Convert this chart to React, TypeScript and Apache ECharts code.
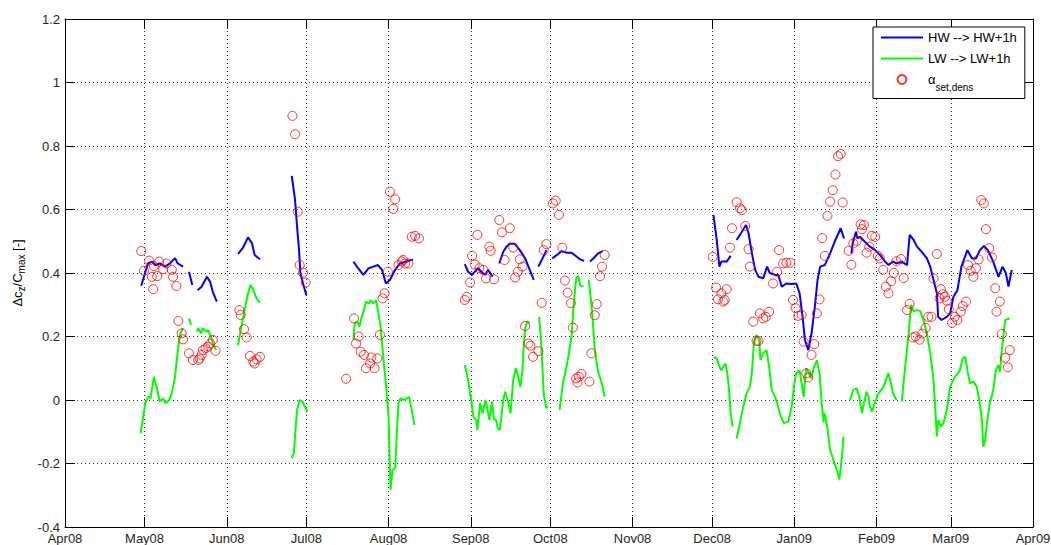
import React, { useEffect, useRef } from 'react';
import * as echarts from 'echarts';

const HW_NAME = 'HW --> HW+1h';
const LW_NAME = 'LW --> LW+1h';
const ALPHA_NAME = 'αset,dens';
const MONTHS = ['Jan', 'Feb', 'Mar', 'Apr', 'May', 'Jun', 'Jul', 'Aug', 'Sep', 'Oct', 'Nov', 'Dec'];
const X_START = '2008-04-01';
const X_END = '2009-04-01';

type Pt = [string, number];

// HW --> HW+1h (blue), separate measured stretches
const hwSegments: Pt[][] = [
  [['2008-04-29 18:00', 0.36], ['2008-05-02 06:00', 0.43], ['2008-05-03 18:00', 0.436], ['2008-05-05 00:00', 0.425], ['2008-05-06 18:00', 0.43], ['2008-05-08 18:00', 0.42], ['2008-05-10 12:00', 0.43], ['2008-05-12 12:00', 0.447], ['2008-05-13 12:00', 0.43], ['2008-05-15 12:00', 0.42]],
  [['2008-05-17 18:00', 0.404], ['2008-05-19 00:00', 0.362]],
  [['2008-05-21 00:00', 0.346], ['2008-05-22 12:00', 0.357], ['2008-05-24 12:00', 0.388], ['2008-05-25 18:00', 0.372], ['2008-05-26 18:00', 0.34], ['2008-05-28 06:00', 0.31]],
  [['2008-06-05 06:00', 0.46], ['2008-06-07 00:00', 0.478], ['2008-06-09 00:00', 0.512], ['2008-06-10 12:00', 0.494], ['2008-06-11 12:00', 0.457], ['2008-06-13 12:00', 0.443]],
  [['2008-06-25 12:00', 0.706], ['2008-06-26 18:00', 0.63], ['2008-06-27 12:00', 0.546], ['2008-06-28 06:00', 0.472], ['2008-06-28 18:00', 0.4], ['2008-06-29 18:00', 0.367], ['2008-07-01 00:00', 0.33]],
  [['2008-07-18 18:00', 0.436], ['2008-07-20 12:00', 0.415], ['2008-07-22 12:00', 0.394], ['2008-07-24 12:00', 0.415], ['2008-07-26 06:00', 0.42], ['2008-07-28 00:00', 0.425], ['2008-07-29 12:00', 0.41], ['2008-07-31 00:00', 0.367], ['2008-08-01 12:00', 0.378], ['2008-08-03 12:00', 0.41], ['2008-08-05 06:00', 0.43], ['2008-08-07 18:00', 0.436], ['2008-08-10 06:00', 0.443]],
  [['2008-08-29 18:00', 0.428], ['2008-08-31 00:00', 0.404], ['2008-09-01 12:00', 0.394], ['2008-09-02 12:00', 0.404], ['2008-09-03 18:00', 0.415], ['2008-09-05 00:00', 0.404], ['2008-09-06 12:00', 0.394], ['2008-09-07 12:00', 0.41], ['2008-09-09 06:00', 0.388]],
  [['2008-09-11 18:00', 0.43], ['2008-09-13 06:00', 0.467], ['2008-09-14 12:00', 0.483], ['2008-09-15 18:00', 0.493], ['2008-09-17 18:00', 0.491], ['2008-09-19 12:00', 0.472], ['2008-09-21 12:00', 0.446], ['2008-09-23 06:00', 0.41], ['2008-09-24 18:00', 0.378]],
  [['2008-09-26 12:00', 0.42], ['2008-09-27 18:00', 0.441], ['2008-09-29 00:00', 0.462], ['2008-09-29 12:00', 0.472]],
  [['2008-10-01 18:00', 0.446], ['2008-10-03 12:00', 0.457], ['2008-10-05 06:00', 0.469], ['2008-10-07 06:00', 0.464], ['2008-10-09 00:00', 0.464], ['2008-10-11 00:00', 0.451], ['2008-10-12 06:00', 0.443], ['2008-10-13 18:00', 0.438]],
  [['2008-10-16 00:00', 0.436], ['2008-10-17 12:00', 0.448], ['2008-10-19 00:00', 0.462], ['2008-10-20 18:00', 0.469]],
  [['2008-12-01 12:00', 0.583], ['2008-12-02 18:00', 0.504], ['2008-12-03 18:00', 0.42], ['2008-12-04 12:00', 0.436], ['2008-12-06 12:00', 0.436], ['2008-12-08 00:00', 0.454]],
  [['2008-12-10 06:00', 0.504], ['2008-12-11 12:00', 0.52], ['2008-12-13 18:00', 0.551], ['2008-12-14 18:00', 0.525], ['2008-12-16 00:00', 0.462], ['2008-12-17 06:00', 0.41], ['2008-12-18 12:00', 0.388], ['2008-12-20 06:00', 0.383], ['2008-12-21 18:00', 0.42], ['2008-12-22 18:00', 0.4], ['2008-12-24 18:00', 0.394], ['2008-12-26 00:00', 0.394], ['2008-12-27 06:00', 0.357], ['2008-12-29 00:00', 0.367], ['2008-12-31 00:00', 0.365], ['2009-01-01 18:00', 0.367], ['2009-01-03 00:00', 0.336], ['2009-01-04 06:00', 0.252], ['2009-01-05 00:00', 0.189], ['2009-01-06 06:00', 0.157], ['2009-01-07 12:00', 0.21], ['2009-01-08 18:00', 0.294], ['2009-01-09 18:00', 0.378], ['2009-01-10 18:00', 0.42], ['2009-01-12 12:00', 0.425], ['2009-01-14 12:00', 0.462], ['2009-01-16 12:00', 0.504], ['2009-01-18 12:00', 0.541], ['2009-01-19 18:00', 0.509]],
  [['2009-01-22 12:00', 0.462], ['2009-01-23 00:00', 0.493], ['2009-01-24 06:00', 0.53], ['2009-01-24 18:00', 0.509], ['2009-01-25 18:00', 0.514], ['2009-01-27 12:00', 0.499], ['2009-01-29 12:00', 0.483], ['2009-01-31 12:00', 0.472], ['2009-02-02 06:00', 0.457], ['2009-02-04 06:00', 0.436], ['2009-02-05 12:00', 0.425], ['2009-02-07 06:00', 0.436], ['2009-02-08 12:00', 0.43], ['2009-02-10 12:00', 0.436], ['2009-02-12 12:00', 0.425], ['2009-02-13 12:00', 0.52], ['2009-02-15 00:00', 0.504], ['2009-02-16 06:00', 0.483], ['2009-02-18 00:00', 0.467], ['2009-02-20 00:00', 0.446], ['2009-02-21 06:00', 0.42], ['2009-02-22 12:00', 0.378], ['2009-02-23 18:00', 0.336], ['2009-02-24 06:00', 0.262], ['2009-02-25 12:00', 0.252], ['2009-02-27 12:00', 0.262], ['2009-02-28 18:00', 0.273], ['2009-03-02 00:00', 0.325], ['2009-03-03 12:00', 0.346], ['2009-03-05 00:00', 0.42], ['2009-03-07 06:00', 0.472], ['2009-03-09 00:00', 0.446], ['2009-03-10 12:00', 0.446], ['2009-03-12 00:00', 0.472], ['2009-03-13 12:00', 0.485], ['2009-03-15 00:00', 0.472], ['2009-03-17 00:00', 0.436], ['2009-03-19 00:00', 0.388], ['2009-03-20 12:00', 0.42], ['2009-03-21 18:00', 0.4], ['2009-03-22 18:00', 0.357], ['2009-03-24 00:00', 0.41]],
];

// LW --> LW+1h (green)
const lwSegments: Pt[][] = [
  [['2008-04-29 12:00', -0.105], ['2008-04-30 12:00', -0.052], ['2008-05-01 06:00', -0.01], ['2008-05-02 12:00', 0.01], ['2008-05-03 06:00', 0.005], ['2008-05-04 12:00', 0.073], ['2008-05-05 12:00', 0.042], ['2008-05-06 18:00', -0.005], ['2008-05-08 00:00', 0.005], ['2008-05-09 00:00', -0.01], ['2008-05-10 06:00', 0.0], ['2008-05-11 06:00', 0.021], ['2008-05-12 12:00', 0.073], ['2008-05-13 00:00', 0.115], ['2008-05-13 18:00', 0.168], ['2008-05-14 12:00', 0.21], ['2008-05-15 12:00', 0.226]],
  [['2008-05-17 18:00', 0.257], ['2008-05-18 12:00', 0.236]],
  [['2008-05-20 18:00', 0.215], ['2008-05-21 06:00', 0.226], ['2008-05-22 06:00', 0.21], ['2008-05-23 00:00', 0.226], ['2008-05-24 06:00', 0.215], ['2008-05-25 00:00', 0.22], ['2008-05-26 00:00', 0.2], ['2008-05-27 00:00', 0.173], ['2008-05-28 00:00', 0.157]],
  [['2008-06-05 06:00', 0.173], ['2008-06-06 12:00', 0.231], ['2008-06-08 00:00', 0.294], ['2008-06-09 00:00', 0.336], ['2008-06-10 00:00', 0.362], ['2008-06-11 00:00', 0.346], ['2008-06-12 06:00', 0.32], ['2008-06-13 12:00', 0.307]],
  [['2008-06-25 12:00', -0.184], ['2008-06-26 06:00', -0.168], ['2008-06-27 00:00', -0.084], ['2008-06-27 12:00', -0.031], ['2008-06-28 12:00', 0.0], ['2008-06-29 12:00', -0.005], ['2008-06-30 12:00', -0.021], ['2008-07-01 12:00', -0.037]],
  [['2008-07-18 18:00', 0.189], ['2008-07-19 06:00', 0.241], ['2008-07-20 06:00', 0.247], ['2008-07-21 00:00', 0.231], ['2008-07-21 18:00', 0.257], ['2008-07-22 18:00', 0.283], ['2008-07-23 12:00', 0.31], ['2008-07-24 12:00', 0.304], ['2008-07-25 06:00', 0.315], ['2008-07-26 06:00', 0.304], ['2008-07-27 06:00', 0.315], ['2008-07-28 00:00', 0.283], ['2008-07-29 00:00', 0.231], ['2008-07-30 00:00', 0.136], ['2008-07-31 00:00', 0.052], ['2008-08-01 00:00', -0.052], ['2008-08-01 12:00', -0.21], ['2008-08-01 18:00', -0.283], ['2008-08-02 12:00', -0.22], ['2008-08-03 12:00', -0.215], ['2008-08-04 00:00', -0.126], ['2008-08-04 18:00', -0.01], ['2008-08-05 12:00', 0.005], ['2008-08-07 06:00', 0.0], ['2008-08-08 18:00', 0.01], ['2008-08-09 18:00', -0.031], ['2008-08-10 18:00', -0.079]],
  [['2008-08-29 18:00', 0.11], ['2008-08-31 00:00', 0.063], ['2008-09-01 12:00', -0.021], ['2008-09-02 00:00', -0.052], ['2008-09-03 00:00', -0.063], ['2008-09-03 12:00', -0.094], ['2008-09-04 12:00', -0.01], ['2008-09-05 12:00', -0.042], ['2008-09-06 12:00', 0.0], ['2008-09-07 06:00', -0.026], ['2008-09-08 00:00', -0.063], ['2008-09-09 00:00', -0.005], ['2008-09-09 18:00', -0.06], ['2008-09-10 12:00', -0.063], ['2008-09-11 06:00', -0.09], ['2008-09-12 00:00', -0.094], ['2008-09-13 06:00', 0.0], ['2008-09-14 00:00', 0.026], ['2008-09-15 06:00', -0.01], ['2008-09-16 00:00', -0.042], ['2008-09-17 00:00', 0.063], ['2008-09-18 00:00', 0.1], ['2008-09-18 18:00', 0.079], ['2008-09-19 18:00', 0.042], ['2008-09-20 12:00', 0.094], ['2008-09-21 00:00', 0.178], ['2008-09-21 12:00', 0.226], ['2008-09-22 06:00', 0.247], ['2008-09-23 06:00', 0.242]],
  [['2008-09-26 18:00', 0.262], ['2008-09-27 12:00', 0.189], ['2008-09-28 00:00', 0.105], ['2008-09-28 12:00', 0.021], ['2008-09-29 12:00', -0.026], ['2008-09-30 00:00', -0.019]],
  [['2008-10-04 12:00', -0.031], ['2008-10-05 18:00', 0.052], ['2008-10-06 12:00', 0.08], ['2008-10-07 18:00', 0.135], ['2008-10-09 00:00', 0.2], ['2008-10-09 18:00', 0.294], ['2008-10-10 18:00', 0.385], ['2008-10-11 12:00', 0.39], ['2008-10-12 06:00', 0.362], ['2008-10-13 12:00', 0.357]],
  [['2008-10-15 12:00', 0.378], ['2008-10-16 12:00', 0.3], ['2008-10-17 06:00', 0.22], ['2008-10-17 18:00', 0.157], ['2008-10-19 00:00', 0.09], ['2008-10-19 18:00', 0.07], ['2008-10-20 12:00', 0.05], ['2008-10-21 12:00', 0.01]],
  [['2008-12-01 12:00', 0.136], ['2008-12-02 18:00', 0.131], ['2008-12-03 18:00', 0.105], ['2008-12-04 12:00', 0.094], ['2008-12-06 00:00', 0.115], ['2008-12-06 18:00', 0.084], ['2008-12-07 12:00', 0.021], ['2008-12-08 00:00', -0.042], ['2008-12-08 18:00', -0.084]],
  [['2008-12-10 06:00', -0.121], ['2008-12-11 12:00', -0.073], ['2008-12-12 18:00', -0.021], ['2008-12-14 00:00', 0.021], ['2008-12-15 06:00', 0.042], ['2008-12-16 00:00', 0.084], ['2008-12-16 18:00', 0.178], ['2008-12-17 18:00', 0.205], ['2008-12-18 18:00', 0.189], ['2008-12-19 06:00', 0.126], ['2008-12-20 06:00', 0.147], ['2008-12-21 12:00', 0.157], ['2008-12-22 12:00', 0.105], ['2008-12-23 12:00', 0.031], ['2008-12-24 18:00', 0.01], ['2008-12-25 12:00', -0.01], ['2008-12-26 12:00', -0.042], ['2008-12-28 00:00', -0.073], ['2008-12-29 18:00', -0.068], ['2008-12-31 00:00', -0.021], ['2009-01-01 00:00', 0.052], ['2009-01-01 18:00', 0.084], ['2009-01-03 00:00', 0.094], ['2009-01-04 12:00', 0.01], ['2009-01-05 12:00', 0.1], ['2009-01-06 06:00', 0.09], ['2009-01-07 06:00', 0.068], ['2009-01-08 12:00', 0.105], ['2009-01-09 12:00', 0.125], ['2009-01-10 12:00', 0.084], ['2009-01-11 06:00', 0.0], ['2009-01-12 00:00', -0.07], ['2009-01-12 12:00', -0.042], ['2009-01-13 12:00', -0.09], ['2009-01-14 12:00', -0.157], ['2009-01-15 18:00', -0.189], ['2009-01-17 00:00', -0.22], ['2009-01-18 00:00', -0.25], ['2009-01-19 00:00', -0.175], ['2009-01-19 12:00', -0.115]],
  [['2009-01-22 00:00', 0.0], ['2009-01-23 06:00', 0.031], ['2009-01-24 12:00', 0.037], ['2009-01-25 12:00', 0.01], ['2009-01-26 12:00', -0.042], ['2009-01-27 06:00', -0.01], ['2009-01-28 06:00', 0.026], ['2009-01-29 00:00', 0.01], ['2009-01-29 12:00', -0.021], ['2009-01-30 06:00', -0.037], ['2009-01-31 12:00', -0.005], ['2009-02-01 18:00', 0.021], ['2009-02-03 12:00', 0.04], ['2009-02-05 12:00', 0.084], ['2009-02-06 12:00', 0.052], ['2009-02-07 06:00', 0.021], ['2009-02-08 12:00', 0.0]],
  [['2009-02-10 12:00', -0.005], ['2009-02-11 18:00', 0.1], ['2009-02-13 00:00', 0.2], ['2009-02-14 00:00', 0.3], ['2009-02-15 00:00', 0.28], ['2009-02-16 06:00', 0.283], ['2009-02-17 12:00', 0.28], ['2009-02-18 18:00', 0.25], ['2009-02-20 00:00', 0.21], ['2009-02-21 06:00', 0.147], ['2009-02-22 12:00', 0.063], ['2009-02-23 06:00', -0.042], ['2009-02-23 18:00', -0.115], ['2009-02-24 06:00', -0.063], ['2009-02-25 06:00', -0.084], ['2009-02-26 06:00', -0.073], ['2009-02-27 12:00', -0.031], ['2009-02-28 18:00', 0.042], ['2009-03-02 12:00', 0.073], ['2009-03-04 06:00', 0.089], ['2009-03-05 12:00', 0.131], ['2009-03-06 12:00', 0.136], ['2009-03-07 06:00', 0.094], ['2009-03-08 06:00', 0.052], ['2009-03-09 12:00', 0.058], ['2009-03-10 18:00', 0.042], ['2009-03-11 18:00', 0.0], ['2009-03-12 18:00', -0.063], ['2009-03-13 06:00', -0.147], ['2009-03-14 00:00', -0.126], ['2009-03-14 18:00', -0.063], ['2009-03-15 18:00', -0.01], ['2009-03-17 00:00', 0.031], ['2009-03-18 00:00', 0.094], ['2009-03-19 00:00', 0.11], ['2009-03-19 12:00', 0.089], ['2009-03-20 06:00', 0.157], ['2009-03-21 12:00', 0.252], ['2009-03-23 06:00', 0.257]],
];

// alpha_set,dens (red circles)
const alphaPoints: Pt[] = [
  ['2008-04-29 18:00', 0.469], ['2008-04-30 18:00', 0.407], ['2008-05-02 18:00', 0.439], ['2008-05-03 18:00', 0.388], ['2008-05-04 12:00', 0.422], ['2008-05-04 06:00', 0.349], ['2008-05-05 18:00', 0.39], ['2008-05-06 12:00', 0.436], ['2008-05-08 00:00', 0.412], ['2008-05-09 06:00', 0.43], ['2008-05-11 06:00', 0.41], ['2008-05-11 18:00', 0.388], ['2008-05-13 00:00', 0.359], ['2008-05-13 18:00', 0.249], ['2008-05-15 00:00', 0.21], ['2008-05-15 12:00', 0.191], ['2008-05-17 18:00', 0.147], ['2008-05-19 06:00', 0.126], ['2008-05-21 06:00', 0.126], ['2008-05-21 18:00', 0.131], ['2008-05-22 12:00', 0.142], ['2008-05-23 00:00', 0.157], ['2008-05-24 00:00', 0.163], ['2008-05-25 00:00', 0.168], ['2008-05-25 18:00', 0.178], ['2008-05-26 18:00', 0.189], ['2008-05-27 18:00', 0.155],
  ['2008-06-05 18:00', 0.283], ['2008-06-06 06:00', 0.268], ['2008-06-07 12:00', 0.223], ['2008-06-08 12:00', 0.197], ['2008-06-09 18:00', 0.139], ['2008-06-11 00:00', 0.121], ['2008-06-11 12:00', 0.115], ['2008-06-12 06:00', 0.128], ['2008-06-13 12:00', 0.136],
  ['2008-06-25 18:00', 0.895], ['2008-06-26 18:00', 0.837], ['2008-06-27 18:00', 0.593], ['2008-06-28 12:00', 0.425], ['2008-06-29 18:00', 0.401], ['2008-06-30 18:00', 0.37],
  ['2008-07-16 00:00', 0.067], ['2008-07-19 00:00', 0.257], ['2008-07-19 18:00', 0.178], ['2008-07-20 18:00', 0.2], ['2008-07-21 12:00', 0.152], ['2008-07-22 18:00', 0.142], ['2008-07-23 12:00', 0.1], ['2008-07-25 00:00', 0.115], ['2008-07-25 12:00', 0.134], ['2008-07-26 18:00', 0.1], ['2008-07-27 18:00', 0.131], ['2008-07-28 18:00', 0.205], ['2008-07-29 18:00', 0.32], ['2008-07-30 12:00', 0.336], ['2008-07-31 18:00', 0.404], ['2008-08-01 12:00', 0.656], ['2008-08-02 18:00', 0.602], ['2008-08-03 12:00', 0.632], ['2008-08-04 18:00', 0.425], ['2008-08-06 00:00', 0.436], ['2008-08-06 12:00', 0.441], ['2008-08-07 06:00', 0.43], ['2008-08-08 12:00', 0.43], ['2008-08-09 18:00', 0.514], ['2008-08-11 00:00', 0.517], ['2008-08-12 12:00', 0.509],
  ['2008-08-29 18:00', 0.315], ['2008-08-30 12:00', 0.325], ['2008-08-31 18:00', 0.37], ['2008-09-01 12:00', 0.454], ['2008-09-02 12:00', 0.427], ['2008-09-03 12:00', 0.52], ['2008-09-04 06:00', 0.415], ['2008-09-05 18:00', 0.41], ['2008-09-06 18:00', 0.383], ['2008-09-08 00:00', 0.483], ['2008-09-08 12:00', 0.47], ['2008-09-09 18:00', 0.38], ['2008-09-11 18:00', 0.567], ['2008-09-12 18:00', 0.528], ['2008-09-13 18:00', 0.441], ['2008-09-15 18:00', 0.541], ['2008-09-17 00:00', 0.48], ['2008-09-17 18:00', 0.386], ['2008-09-18 18:00', 0.404], ['2008-09-19 12:00', 0.443], ['2008-09-20 12:00', 0.42], ['2008-09-21 12:00', 0.233], ['2008-09-22 18:00', 0.178], ['2008-09-23 12:00', 0.171], ['2008-09-24 12:00', 0.136], ['2008-09-26 12:00', 0.154], ['2008-09-27 18:00', 0.306], ['2008-09-28 12:00', 0.472], ['2008-09-29 12:00', 0.491],
  ['2008-10-02 00:00', 0.619], ['2008-10-03 00:00', 0.628], ['2008-10-04 06:00', 0.583], ['2008-10-05 12:00', 0.48], ['2008-10-06 12:00', 0.376], ['2008-10-07 12:00', 0.338], ['2008-10-08 18:00', 0.305], ['2008-10-09 12:00', 0.228], ['2008-10-10 18:00', 0.068], ['2008-10-11 06:00', 0.055], ['2008-10-11 18:00', 0.073], ['2008-10-12 18:00', 0.082], ['2008-10-15 18:00', 0.058], ['2008-10-16 12:00', 0.147], ['2008-10-17 18:00', 0.267], ['2008-10-18 12:00', 0.302], ['2008-10-19 18:00', 0.39], ['2008-10-20 12:00', 0.42], ['2008-10-21 12:00', 0.457],
  ['2008-12-01 06:00', 0.451], ['2008-12-02 12:00', 0.354], ['2008-12-03 06:00', 0.317], ['2008-12-04 12:00', 0.336], ['2008-12-05 06:00', 0.31], ['2008-12-05 18:00', 0.315], ['2008-12-06 12:00', 0.349], ['2008-12-07 18:00', 0.48], ['2008-12-08 12:00', 0.541], ['2008-12-10 06:00', 0.623], ['2008-12-11 12:00', 0.604], ['2008-12-12 06:00', 0.598], ['2008-12-13 12:00', 0.548], ['2008-12-14 18:00', 0.475], ['2008-12-15 06:00', 0.42], ['2008-12-16 12:00', 0.247], ['2008-12-17 18:00', 0.186], ['2008-12-18 12:00', 0.186], ['2008-12-19 00:00', 0.273], ['2008-12-20 06:00', 0.257], ['2008-12-21 06:00', 0.262], ['2008-12-22 12:00', 0.278], ['2008-12-24 00:00', 0.367], ['2008-12-25 12:00', 0.404], ['2008-12-26 06:00', 0.472], ['2008-12-27 18:00', 0.43], ['2008-12-29 00:00', 0.432], ['2008-12-30 12:00', 0.432], ['2008-12-31 12:00', 0.315],
  ['2009-01-01 12:00', 0.289], ['2009-01-02 12:00', 0.265], ['2009-01-03 18:00', 0.268], ['2009-01-04 12:00', 0.184], ['2009-01-05 12:00', 0.084], ['2009-01-06 06:00', 0.071], ['2009-01-07 12:00', 0.142], ['2009-01-08 12:00', 0.176], ['2009-01-09 12:00', 0.273], ['2009-01-10 12:00', 0.317], ['2009-01-11 12:00', 0.51], ['2009-01-12 12:00', 0.454], ['2009-01-13 12:00', 0.58], ['2009-01-14 12:00', 0.625], ['2009-01-15 12:00', 0.661], ['2009-01-16 12:00', 0.71], ['2009-01-17 12:00', 0.768], ['2009-01-18 12:00', 0.775], ['2009-01-19 06:00', 0.622], ['2009-01-21 12:00', 0.47], ['2009-01-22 12:00', 0.426], ['2009-01-23 06:00', 0.493], ['2009-01-24 12:00', 0.501], ['2009-01-26 00:00', 0.553], ['2009-01-26 12:00', 0.538], ['2009-01-27 06:00', 0.551], ['2009-01-28 06:00', 0.464], ['2009-01-29 06:00', 0.483], ['2009-01-30 06:00', 0.517], ['2009-01-31 12:00', 0.514],
  ['2009-02-01 12:00', 0.454], ['2009-02-02 06:00', 0.446], ['2009-02-03 12:00', 0.41], ['2009-02-04 12:00', 0.357], ['2009-02-05 12:00', 0.336], ['2009-02-06 12:00', 0.374], ['2009-02-07 12:00', 0.4], ['2009-02-08 12:00', 0.437], ['2009-02-10 06:00', 0.444], ['2009-02-11 06:00', 0.384], ['2009-02-12 12:00', 0.283], ['2009-02-13 12:00', 0.303], ['2009-02-14 18:00', 0.197], ['2009-02-15 18:00', 0.2], ['2009-02-17 06:00', 0.19], ['2009-02-18 06:00', 0.209], ['2009-02-19 12:00', 0.227], ['2009-02-20 12:00', 0.262], ['2009-02-21 18:00', 0.262], ['2009-02-22 12:00', 0.383], ['2009-02-23 18:00', 0.46], ['2009-02-24 18:00', 0.32], ['2009-02-25 06:00', 0.349], ['2009-02-26 00:00', 0.333], ['2009-02-26 18:00', 0.325], ['2009-02-27 12:00', 0.313], ['2009-02-28 06:00', 0.286],
  ['2009-03-01 12:00', 0.243], ['2009-03-02 12:00', 0.262], ['2009-03-03 12:00', 0.252], ['2009-03-04 18:00', 0.278], ['2009-03-05 12:00', 0.296], ['2009-03-06 18:00', 0.31], ['2009-03-07 12:00', 0.425], ['2009-03-08 12:00', 0.407], ['2009-03-09 12:00', 0.388], ['2009-03-10 12:00', 0.415], ['2009-03-11 12:00', 0.443], ['2009-03-12 12:00', 0.63], ['2009-03-13 12:00', 0.619], ['2009-03-14 06:00', 0.538], ['2009-03-15 12:00', 0.478], ['2009-03-16 12:00', 0.449], ['2009-03-17 18:00', 0.352], ['2009-03-18 06:00', 0.278], ['2009-03-19 12:00', 0.31], ['2009-03-20 06:00', 0.208], ['2009-03-21 12:00', 0.133], ['2009-03-22 12:00', 0.103], ['2009-03-23 06:00', 0.157],
];

const FONT = '"Liberation Sans", Arial, Helvetica, sans-serif';
const LINE_ICON = 'path://M0,0L84,0L84,4L0,4Z';

function toTime(s: string): number {
  const [y, m, day] = s.split('-').map(Number);
  return new Date(y, m - 1, day).getTime();
}

export default function App() {
  const ref = useRef<HTMLDivElement>(null);

  useEffect(() => {
    if (!ref.current) return;
    const chart = echarts.init(ref.current, null, { renderer: 'svg' });
    const xMin = toTime(X_START);
    const xMax = toTime(X_END);

    const lineSeries = (segs: Pt[][], name: string, color: string) =>
      segs.map((seg) => ({
        type: 'line',
        name,
        data: seg,
        symbol: 'none',
        showSymbol: false,
        connectNulls: false,
        lineStyle: { color, width: 2 },
        itemStyle: { color },
        emphasis: { disabled: true },
        silent: true,
        z: 2,
      }));

    const xLabel = (v: number) => {
      const d = new Date(v);
      return MONTHS[d.getMonth()] + String(d.getFullYear()).slice(2);
    };

    const axisLineStyle = { show: true, onZero: false, lineStyle: { color: '#000', width: 1 } };
    const tickStyle = { show: true, inside: true, length: 10, lineStyle: { color: '#000', width: 1 } };

    const timeAxisCommon = {
      type: 'time',
      min: xMin,
      max: xMax,
      splitNumber: 12,
      minInterval: 28 * 86400000,
      maxInterval: 31 * 86400000,
      axisLine: axisLineStyle,
      axisTick: tickStyle,
    };
    const yAxisCommon = {
      type: 'value',
      min: -0.4,
      max: 1.2,
      interval: 0.2,
      axisLine: axisLineStyle,
      axisTick: tickStyle,
    };

    chart.setOption({
      animation: false,
      backgroundColor: '#fff',
      grid: { left: 65, right: 18, top: 19, bottom: 18, containLabel: false, outerBoundsMode: 'none' },
      legend: {
        show: true,
        orient: 'vertical',
        left: 873,
        top: 27,
        data: [
          { name: HW_NAME, icon: LINE_ICON },
          { name: LW_NAME, icon: LINE_ICON },
          { name: ALPHA_NAME },
        ],
        symbolKeepAspect: true,
        backgroundColor: '#fff',
        borderColor: '#000',
        borderWidth: 1,
        borderRadius: 0,
        padding: [4, 8, 6, 8],
        itemWidth: 42,
        itemHeight: 9,
        itemGap: 8,
        selectedMode: false,
        textStyle: {
          fontFamily: FONT,
          fontSize: 13,
          color: '#000',
          rich: {
            a: { fontFamily: FONT, fontSize: 13, color: '#000', lineHeight: 26 },
            s: { fontFamily: FONT, fontSize: 10, color: '#000', verticalAlign: 'bottom', padding: [4, 0, 0, 0] },
          },
        },
        formatter: (name: string) => (name === ALPHA_NAME ? '{a|α}{s|set,dens}' : name),
      },
      xAxis: [
        {
          ...timeAxisCommon,
          position: 'bottom',
          axisLabel: {
            show: true,
            formatter: xLabel,
            fontFamily: FONT,
            fontSize: 13,
            lineHeight: 12,
            color: '#262626',
            margin: 5,
            interval: 0,
            showMinLabel: true,
            showMaxLabel: true,
            hideOverlap: false,
          },
          splitLine: { show: true, lineStyle: { color: '#333', width: 1, type: [1, 3] } },
        },
        {
          ...timeAxisCommon,
          position: 'top',
          axisLabel: { show: false },
          splitLine: { show: false },
        },
      ],
      yAxis: [
        {
          ...yAxisCommon,
          position: 'left',
          axisLabel: {
            show: true,
            formatter: (v: number) => String(parseFloat(v.toFixed(1))),
            fontFamily: FONT,
            fontSize: 13,
            lineHeight: 10,
            color: '#262626',
            margin: 5,
          },
          splitLine: { show: true, lineStyle: { color: '#333', width: 1, type: [1, 3] } },
          name: '{n|Δc}{s|z}{n|/C}{s|max}{n| [-]}',
          nameLocation: 'middle',
          nameRotate: 90,
          nameGap: 38,
          nameTextStyle: {
            fontFamily: FONT,
            fontSize: 13,
            color: '#000',
            rich: {
              n: { fontFamily: FONT, fontSize: 13, color: '#000', lineHeight: 18 },
              s: { fontFamily: FONT, fontSize: 10, color: '#000', verticalAlign: 'bottom', padding: [4, 0, 0, 0] },
            },
          },
        },
        {
          ...yAxisCommon,
          position: 'right',
          axisLabel: { show: false },
          splitLine: { show: false },
        },
      ],
      series: [
        ...lineSeries(hwSegments, HW_NAME, '#0000ff'),
        ...lineSeries(lwSegments, LW_NAME, '#00ff00'),
        {
          type: 'scatter',
          name: ALPHA_NAME,
          data: alphaPoints,
          symbol: 'circle',
          symbolSize: 9,
          itemStyle: { color: 'rgba(0,0,0,0)', borderColor: '#ff0000', borderWidth: 1 },
          emphasis: { disabled: true },
          silent: true,
          z: 3,
        },
      ],
    });

    return () => chart.dispose();
  }, []);

  return (
    <div
      ref={ref}
      style={{ position: 'fixed', left: 0, top: 0, width: 1051, height: 545, background: '#fff' }}
    />
  );
}
